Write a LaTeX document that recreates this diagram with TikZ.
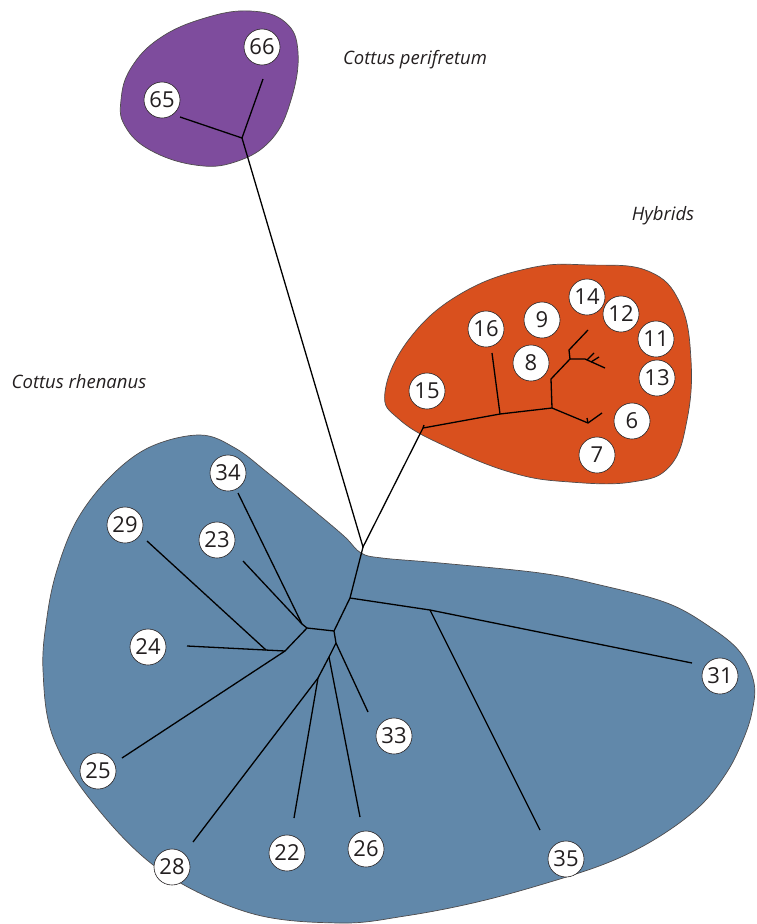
\documentclass[tikz,border=0pt]{standalone}
\usepackage{fontspec}
\setmainfont{Open Sans}
\definecolor{cpurple}{HTML}{7E4C9D}
\definecolor{corange}{HTML}{D9501E}
\definecolor{cblue}{HTML}{6188AA}
\definecolor{ink}{HTML}{231F20}
\tikzset{
  blob/.style={draw=ink!80, line width=0.7pt},
  branch/.style={draw=black, line width=1.3pt, line join=miter},
  leaf/.style={circle, draw=ink, line width=0.6pt, fill=white, minimum size=36pt, inner sep=0pt, text=ink, font=\fontsize{22}{22}\selectfont},
  grp/.style={text=ink, font=\fontsize{18.5}{20}\selectfont\itshape}
}
\begin{document}
\begin{tikzpicture}[x=1pt,y=-1pt]
\useasboundingbox (0,0) rectangle (756,924);
\begin{scope}
\clip (0,0) rectangle (756,924);
% blobs
\draw[blob, fill=cpurple] plot[smooth cycle, tension=0.7] coordinates {
 (121,100) (131,68) (160,38) (205,18) (250,11) (285,22) (298,52) (291,100) (271,140) (235,162) (195,165) (150,150) (125,126)};
\draw[blob, fill=corange] plot[smooth cycle, tension=0.7] coordinates {
 (385,392) (410,338) (462,293) (530,268) (590,265) (648,271) (680,303) (691,360) (687,420) (670,466) (632,482) (570,482) (513,473) (447,447) (400,420)};
\draw[blob, fill=cblue] plot[smooth cycle, tension=0.6] coordinates {
 (200,435) (235,448) (268,473) (318,514) (345,537) (361,553) (382,558) (440,563) (540,573) (600,585) (667,603) (710,627) (740,652) (754,683) (752,712) (743,740) (727,772) (700,806) (657,838) (607,863) (540,885) (473,903) (405,916) (340,923) (250,913) (160,870) (93,803) (53,737) (43,670) (47,617) (57,570) (77,520) (110,477) (150,447)};
\end{scope}

% junction coordinates
\coordinate (T0) at (242,138);
\coordinate (e66) at (263,79);
\coordinate (e65) at (180,117);
\coordinate (A) at (363,547);
\coordinate (K) at (423,428);
\coordinate (Kt) at (424,425);
\coordinate (B) at (350,598);
\coordinate (R1) at (430,610);
\coordinate (e31) at (692,663);
\coordinate (e35) at (540,830);
\coordinate (C) at (334,631);
\coordinate (E) at (336,643);
\coordinate (e33) at (368,712);
\coordinate (F) at (329,657);
\coordinate (e26) at (360,817);
\coordinate (G) at (318,678);
\coordinate (e22) at (294,818);
\coordinate (e28) at (193,842);
\coordinate (D) at (307,628);
\coordinate (J) at (302,624);
\coordinate (e34) at (238,493);
\coordinate (e23) at (243,561);
\coordinate (H) at (285,651);
\coordinate (e24) at (187,646);
\coordinate (X29) at (266,650);
\coordinate (e29) at (147,541);
\coordinate (e25) at (122,758);
% hybrid tree
\coordinate (L) at (500,414);
\coordinate (e16) at (492,353);
\coordinate (M) at (552,408);
\coordinate (N) at (551,379);
\coordinate (P1) at (570,359);
\coordinate (P2) at (569,350);
\coordinate (e14) at (588,330);
\coordinate (P3) at (585,359);
\coordinate (e12) at (605,368);
\coordinate (t1a) at (587,360);
\coordinate (t1b) at (594,353);
\coordinate (t2a) at (591,362);
\coordinate (t2b) at (599,357);
\coordinate (Q) at (588,423);
\coordinate (Qt) at (587,418);
\coordinate (e6) at (602,413);

% branches
\draw[branch] (e66) -- (T0) -- (e65);
\draw[branch] (T0) -- (A) -- (K);
\draw[branch] (Kt) -- (K) -- (L) -- (M);
\draw[branch] (L) -- (e16);
\draw[branch] (M) -- (N) -- (P1) -- (P2) -- (e14);
\draw[branch] (P1) -- (P3) -- (e12);
\draw[branch] (t1a) -- (t1b);
\draw[branch] (t2a) -- (t2b);
\draw[branch] (M) -- (Q) -- (e6);
\draw[branch] (Q) -- (Qt);
\draw[branch] (A) -- (B) -- (R1) -- (e31);
\draw[branch] (R1) -- (e35);
\draw[branch] (B) -- (C) -- (E) -- (e33);
\draw[branch] (E) -- (F) -- (e26);
\draw[branch] (F) -- (G) -- (e22);
\draw[branch] (G) -- (e28);
\draw[branch] (C) -- (D) -- (J) -- (e34);
\draw[branch] (J) -- (e23);
\draw[branch] (D) -- (H) -- (e24);
\draw[branch] (X29) -- (e29);
\draw[branch] (H) -- (e25);

% leaves
\node[leaf] (n66) at (262,47) {66};
\node[leaf] (n65) at (162,100) {65};
\node[leaf] (n14) at (587,297) {14};
\node[leaf] (n12) at (621,314) {12};
\node[leaf] (n9) at (542,320) {9};
\node[leaf] (n16) at (486,329) {16};
\node[leaf] (n11) at (656,339) {11};
\node[leaf] (n8) at (531,363) {8};
\node[leaf] (n13) at (657,378) {13};
\node[leaf] (n15) at (427,391) {15};
\node[leaf] (n6) at (632,421) {6};
\node[leaf] (n7) at (597,455) {7};
\node[leaf] (n34) at (228,473) {34};
\node[leaf] (n29) at (125,525) {29};
\node[leaf] (n23) at (217,540) {23};
\node[leaf] (n24) at (148,647) {24};
\node[leaf] (n31) at (720,676) {31};
\node[leaf] (n33) at (394,736) {33};
\node[leaf] (n25) at (98,771) {25};
\node[leaf] (n22) at (287,853) {22};
\node[leaf] (n26) at (366,849) {26};
\node[leaf] (n35) at (566,859) {35};
\node[leaf] (n28) at (172,867) {28};

% group labels
\node[grp] (lp) at (415,60) {Cottus perifretum};
\node[grp] (lh) at (663,216) {Hybrids};
\node[grp] (lr) at (79,382) {Cottus rhenanus};
\end{tikzpicture}
\end{document}
